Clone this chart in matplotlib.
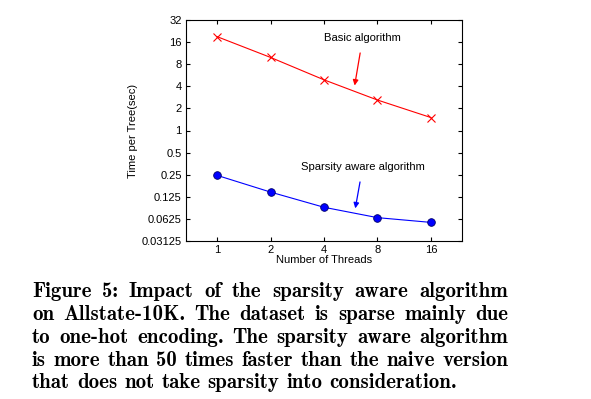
import matplotlib
matplotlib.use("Agg")
from matplotlib import pyplot as plt
from matplotlib.ticker import FixedLocator, FixedFormatter, NullLocator

threads = [1, 2, 4, 8, 16]
basic_time = [19.0, 9.9, 4.9, 2.6, 1.5]
sparse_time = [0.245, 0.145, 0.090, 0.065, 0.056]

y_ticks = [0.03125, 0.0625, 0.125, 0.25, 0.5, 1, 2, 4, 8, 16, 32]
y_labels = ['0.03125', '0.0625', '0.125', '0.25', '0.5', '1', '2', '4', '8', '16', '32']
x_labels = ['1', '2', '4', '8', '16']

caption = [
    "Figure 5: Impact of the sparsity aware algorithm",
    "on Allstate-10K. The dataset is sparse mainly due",
    "to one-hot encoding. The sparsity aware algorithm",
    "is more than 50 times faster than the naive version",
    "that does not take sparsity into consideration.",
]

plt.rcParams['font.family'] = ['Liberation Sans', 'DejaVu Sans']

W, H = 591, 399
fig = plt.figure(figsize=(W / 100, H / 100), dpi=100)
ax = fig.add_axes([186 / W, 1 - 241 / H, (462 - 186) / W, (241 - 20) / H])

ax.plot(threads, basic_time, color='red', lw=0.8, marker='x', ms=5.5, mew=0.8)
ax.plot(threads, sparse_time, color='blue', lw=0.8, marker='o', ms=5.5,
        mfc='blue', mec='#000066', mew=0.6)

ax.set_xscale('log', base=2)
ax.set_yscale('log', base=2)
ax.set_xlim(2 ** -0.58, 2 ** 4.58)
ax.set_ylim(0.03125, 32)

ax.xaxis.set_major_locator(FixedLocator(threads))
ax.xaxis.set_major_formatter(FixedFormatter(x_labels))
ax.xaxis.set_minor_locator(NullLocator())
ax.yaxis.set_major_locator(FixedLocator(y_ticks))
ax.yaxis.set_major_formatter(FixedFormatter(y_labels))
ax.yaxis.set_minor_locator(NullLocator())
ax.tick_params(direction='in', length=3, width=0.8, labelsize=8,
               top=True, right=True, pad=3)
for s in ax.spines.values():
    s.set_linewidth(0.8)

ax.set_xlabel('Number of Threads', fontsize=8, labelpad=0)
ax.set_ylabel('Time per Tree(sec)', fontsize=8, labelpad=3)

ax.annotate('Basic algorithm', xy=(5.95, 4.1), xytext=(6.6, 18),
            ha='center', va='center', fontsize=8.1,
            arrowprops=dict(arrowstyle='-|>', color='red', lw=0.9,
                            mutation_scale=8, shrinkA=5, shrinkB=0))
ax.annotate('Sparsity aware algorithm', xy=(6.0, 0.087), xytext=(6.6, 0.315),
            ha='center', va='center', fontsize=8.1,
            arrowprops=dict(arrowstyle='-|>', color='blue', lw=0.9,
                            mutation_scale=8, shrinkA=5, shrinkB=0))

# caption, justified word by word
fs = 15
x0, x1 = 32, 508
ys = [297, 320, 343, 366, 388]
renderer = fig.canvas.get_renderer()
probe = fig.text(0, 0, 'a a', family='cmb10', fontsize=fs)
probe2 = fig.text(0, 0, 'aa', family='cmb10', fontsize=fs)
space = probe.get_window_extent(renderer).width - probe2.get_window_extent(renderer).width
probe.remove()
probe2.remove()
for i, line in enumerate(caption):
    words = line.split(' ')
    texts = []
    widths = []
    for w in words:
        t = fig.text(0, 0, w, family='cmb10', fontsize=fs, va='baseline', ha='left')
        texts.append(t)
        widths.append(t.get_window_extent(renderer).width)
    if i < len(caption) - 1:
        gap = (x1 - x0 - sum(widths)) / (len(words) - 1)
    else:
        gap = space
    x = x0
    for t, wd in zip(texts, widths):
        t.set_position((x / W, 1 - ys[i] / H))
        x += wd + gap

fig.savefig('out.png', dpi=100)
